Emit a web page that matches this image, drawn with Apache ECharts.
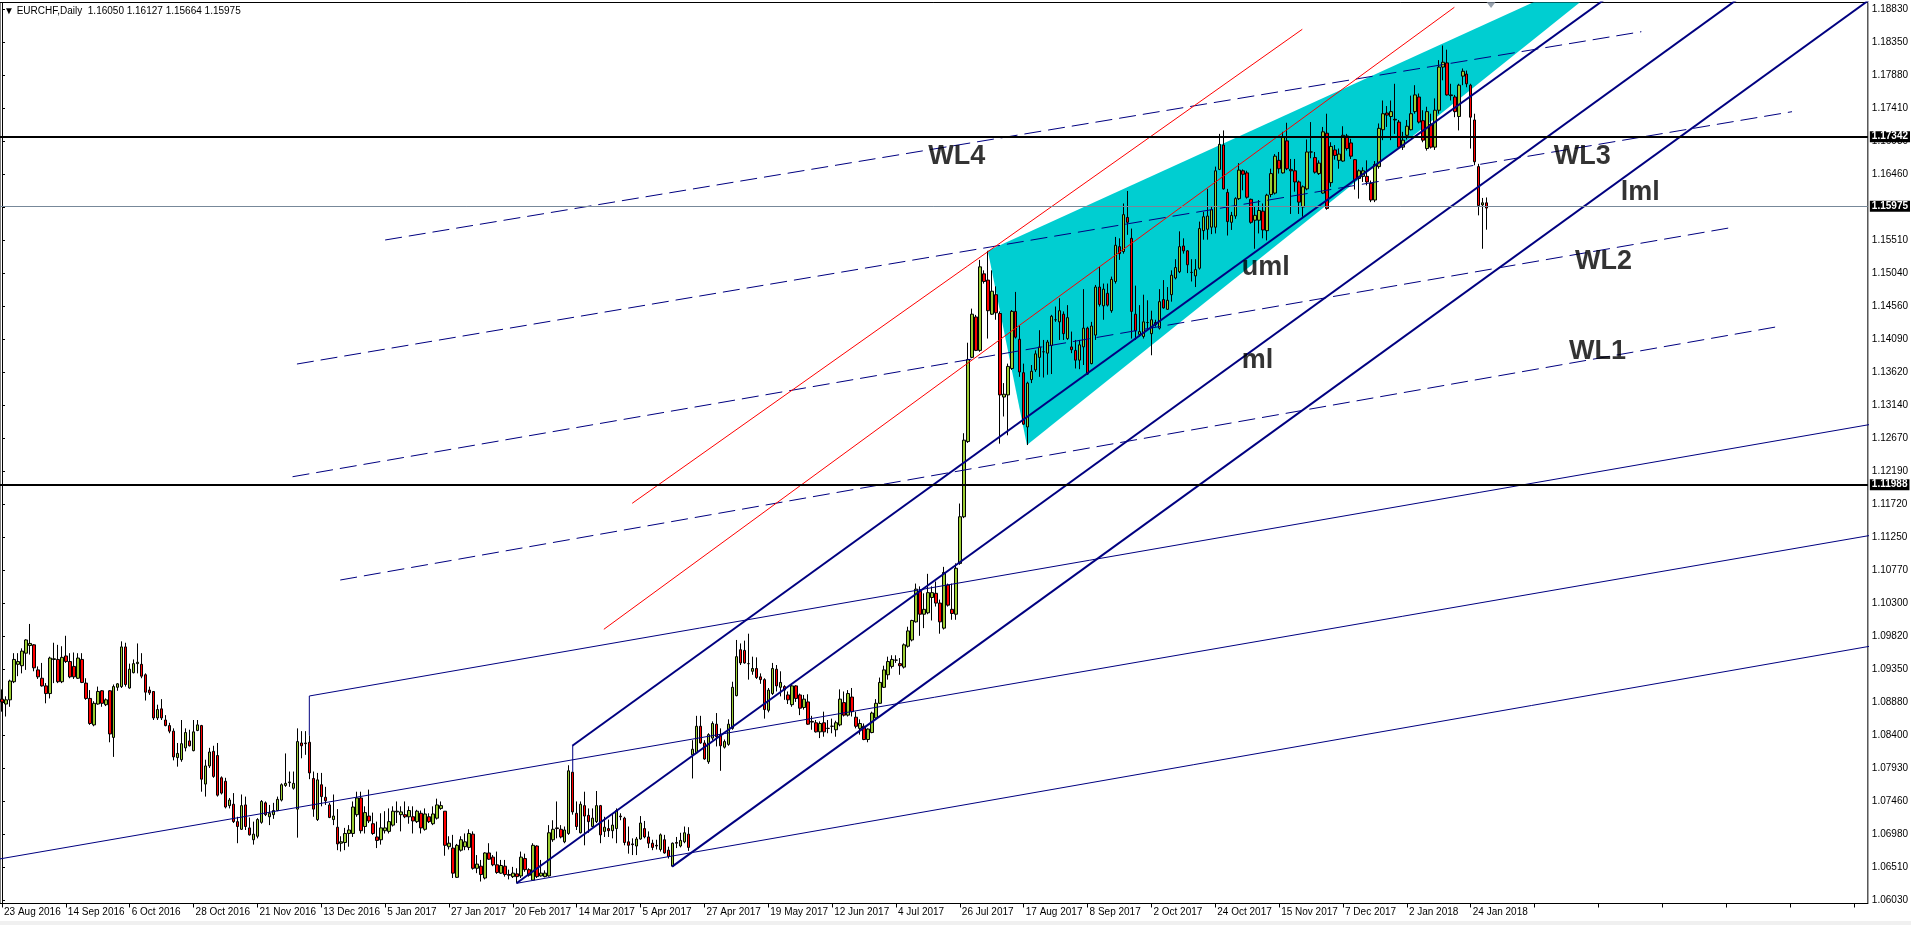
<!DOCTYPE html>
<html>
<head>
<meta charset="utf-8">
<script src="https://cdn.jsdelivr.net/npm/echarts@6/dist/echarts.min.js"></script>
<style>
  html, body { margin: 0; padding: 0; background: #fff; }
  #chart { width: 1911px; height: 925px; }
</style>
</head>
<body>
<div id="chart"></div>
<script>
// 日线 K 线 [open, close, low, high]，从 23 Aug 2016 起
const candles = [
  [1.0892,1.0888,1.0874,1.0906],[1.0885,1.0891,1.0867,1.0896],[1.0891,1.0918,1.0881,1.0920],[1.0917,1.0949,1.0915,1.0958],
  [1.0942,1.0946,1.0925,1.0958],[1.0940,1.0961,1.0929,1.0965],[1.0958,1.0977,1.0934,1.0978],[1.0969,1.0972,1.0956,1.1000],
  [1.0970,1.0937,1.0932,1.0971],[1.0934,1.0924,1.0921,1.0939],[1.0922,1.0911,1.0910,1.0944],[1.0911,1.0900,1.0886,1.0915],
  [1.0900,1.0951,1.0893,1.0953],[1.0949,1.0950,1.0915,1.0973],[1.0949,1.0917,1.0915,1.0970],[1.0917,1.0952,1.0915,1.0968],
  [1.0954,1.0946,1.0944,1.0983],[1.0946,1.0924,1.0922,1.0958],[1.0939,1.0924,1.0921,1.0959],[1.0922,1.0951,1.0921,1.0958],
  [1.0949,1.0916,1.0915,1.0958],[1.0915,1.0893,1.0891,1.0922],[1.0893,1.0857,1.0855,1.0905],[1.0855,1.0886,1.0853,1.0889],
  [1.0885,1.0903,1.0884,1.0910],[1.0904,1.0886,1.0881,1.0905],[1.0884,1.0891,1.0882,1.0893],[1.0904,1.0842,1.0830,1.0905],
  [1.0837,1.0910,1.0809,1.0913],[1.0909,1.0914,1.0904,1.0915],[1.0910,1.0967,1.0908,1.0975],[1.0967,1.0913,1.0910,1.0973],
  [1.0908,1.0935,1.0907,1.0943],[1.0930,1.0943,1.0929,1.0949],[1.0943,1.0945,1.0929,1.0972],[1.0942,1.0925,1.0922,1.0958],
  [1.0927,1.0902,1.0890,1.0929],[1.0905,1.0901,1.0898,1.0910],[1.0903,1.0865,1.0862,1.0903],[1.0865,1.0877,1.0862,1.0884],
  [1.0878,1.0865,1.0862,1.0892],[1.0862,1.0854,1.0853,1.0869],[1.0854,1.0846,1.0843,1.0858],[1.0846,1.0809,1.0804,1.0850],
  [1.0808,1.0814,1.0795,1.0829],[1.0805,1.0828,1.0802,1.0862],[1.0822,1.0844,1.0817,1.0850],[1.0832,1.0825,1.0824,1.0848],
  [1.0818,1.0845,1.0817,1.0862],[1.0847,1.0855,1.0846,1.0862],[1.0854,1.0777,1.0759,1.0855],[1.0770,1.0796,1.0752,1.0805],
  [1.0796,1.0816,1.0793,1.0822],[1.0817,1.0781,1.0779,1.0825],[1.0811,1.0754,1.0752,1.0829],[1.0779,1.0757,1.0755,1.0781],
  [1.0774,1.0737,1.0735,1.0779],[1.0739,1.0747,1.0735,1.0750],[1.0741,1.0716,1.0714,1.0757],[1.0716,1.0709,1.0685,1.0723],
  [1.0705,1.0739,1.0704,1.0755],[1.0740,1.0709,1.0704,1.0752],[1.0707,1.0697,1.0696,1.0722],[1.0690,1.0698,1.0683,1.0716],
  [1.0695,1.0719,1.0692,1.0721],[1.0715,1.0745,1.0713,1.0747],[1.0743,1.0726,1.0724,1.0745],[1.0723,1.0728,1.0711,1.0740],
  [1.0726,1.0732,1.0720,1.0743],[1.0732,1.0748,1.0731,1.0752],[1.0747,1.0769,1.0745,1.0771],[1.0768,1.0771,1.0766,1.0814],
  [1.0772,1.0773,1.0766,1.0788],[1.0764,1.0771,1.0762,1.0788],[1.0734,1.0831,1.0693,1.0850],[1.0829,1.0825,1.0807,1.0846],
  [1.0829,1.0828,1.0812,1.0846],[1.0830,1.0786,1.0777,1.0840],[1.0778,1.0734,1.0723,1.0788],[1.0719,1.0776,1.0717,1.0786],
  [1.0769,1.0752,1.0738,1.0786],[1.0751,1.0746,1.0740,1.0766],[1.0740,1.0722,1.0721,1.0743],[1.0719,1.0724,1.0711,1.0755],
  [1.0708,1.0684,1.0675,1.0734],[1.0685,1.0687,1.0673,1.0695],[1.0686,1.0699,1.0675,1.0707],[1.0699,1.0704,1.0680,1.0711],
  [1.0699,1.0737,1.0694,1.0745],[1.0726,1.0750,1.0723,1.0759],[1.0750,1.0703,1.0699,1.0759],[1.0709,1.0729,1.0699,1.0738],
  [1.0724,1.0717,1.0714,1.0762],[1.0713,1.0699,1.0697,1.0729],[1.0694,1.0689,1.0678,1.0716],[1.0690,1.0707,1.0683,1.0728],
  [1.0703,1.0707,1.0699,1.0731],[1.0702,1.0716,1.0699,1.0735],[1.0711,1.0731,1.0709,1.0738],[1.0730,1.0731,1.0714,1.0745],
  [1.0726,1.0730,1.0702,1.0738],[1.0726,1.0723,1.0721,1.0745],[1.0723,1.0732,1.0713,1.0738],[1.0723,1.0717,1.0699,1.0738],
  [1.0716,1.0731,1.0714,1.0733],[1.0728,1.0707,1.0699,1.0732],[1.0705,1.0727,1.0703,1.0735],[1.0723,1.0716,1.0714,1.0728],
  [1.0713,1.0727,1.0711,1.0738],[1.0721,1.0740,1.0719,1.0749],[1.0735,1.0739,1.0733,1.0745],[1.0731,1.0682,1.0667,1.0731],
  [1.0680,1.0685,1.0676,1.0695],[1.0678,1.0642,1.0635,1.0697],[1.0636,1.0682,1.0635,1.0684],[1.0675,1.0690,1.0673,1.0695],
  [1.0680,1.0687,1.0675,1.0699],[1.0679,1.0699,1.0675,1.0705],[1.0698,1.0649,1.0647,1.0702],[1.0649,1.0655,1.0642,1.0668],
  [1.0652,1.0640,1.0630,1.0661],[1.0635,1.0671,1.0633,1.0672],[1.0671,1.0662,1.0661,1.0685],[1.0665,1.0654,1.0652,1.0668],
  [1.0654,1.0643,1.0641,1.0673],[1.0642,1.0653,1.0641,1.0661],[1.0652,1.0640,1.0637,1.0661],[1.0640,1.0639,1.0633,1.0647],
  [1.0637,1.0642,1.0635,1.0651],[1.0641,1.0637,1.0628,1.0649],[1.0638,1.0665,1.0635,1.0673],[1.0663,1.0647,1.0644,1.0670],
  [1.0647,1.0639,1.0637,1.0649],[1.0632,1.0682,1.0631,1.0685],[1.0681,1.0637,1.0635,1.0682],[1.0638,1.0642,1.0637,1.0661],
  [1.0637,1.0642,1.0636,1.0646],[1.0638,1.0700,1.0637,1.0711],[1.0690,1.0705,1.0687,1.0718],[1.0707,1.0706,1.0692,1.0745],
  [1.0705,1.0694,1.0692,1.0711],[1.0687,1.0704,1.0685,1.0709],[1.0699,1.0789,1.0697,1.0797],[1.0787,1.0730,1.0726,1.0788],
  [1.0728,1.0709,1.0704,1.0745],[1.0700,1.0741,1.0699,1.0745],[1.0739,1.0724,1.0682,1.0759],[1.0725,1.0716,1.0700,1.0735],
  [1.0709,1.0721,1.0708,1.0735],[1.0716,1.0739,1.0714,1.0760],[1.0739,1.0697,1.0685,1.0740],[1.0702,1.0708,1.0694,1.0723],
  [1.0706,1.0703,1.0694,1.0719],[1.0703,1.0711,1.0692,1.0728],[1.0706,1.0732,1.0685,1.0735],[1.0724,1.0723,1.0718,1.0728],
  [1.0721,1.0686,1.0682,1.0723],[1.0687,1.0682,1.0670,1.0709],[1.0684,1.0683,1.0668,1.0692],[1.0681,1.0691,1.0668,1.0694],
  [1.0691,1.0714,1.0690,1.0724],[1.0706,1.0694,1.0692,1.0717],[1.0694,1.0685,1.0678,1.0702],[1.0685,1.0679,1.0675,1.0690],
  [1.0682,1.0681,1.0676,1.0690],[1.0676,1.0697,1.0673,1.0699],[1.0690,1.0671,1.0670,1.0697],[1.0675,1.0666,1.0663,1.0680],
  [1.0652,1.0685,1.0651,1.0686],[1.0686,1.0685,1.0678,1.0694],[1.0681,1.0689,1.0679,1.0700],[1.0687,1.0700,1.0685,1.0709],
  [1.0698,1.0679,1.0674,1.0708],[1.0812,1.0820,1.0778,1.0833],[1.0815,1.0853,1.0814,1.0868],[1.0853,1.0829,1.0828,1.0868],
  [1.0829,1.0806,1.0805,1.0833],[1.0802,1.0841,1.0799,1.0843],[1.0836,1.0857,1.0833,1.0860],[1.0856,1.0838,1.0824,1.0872],
  [1.0841,1.0825,1.0789,1.0850],[1.0823,1.0831,1.0821,1.0834],[1.0827,1.0856,1.0825,1.0863],[1.0850,1.0909,1.0848,1.0917],
  [1.0897,1.0953,1.0896,1.0977],[1.0963,1.0944,1.0941,1.0972],[1.0962,1.0944,1.0943,1.0976],[1.0943,1.0943,1.0920,1.0986],
  [1.0932,1.0936,1.0927,1.0953],[1.0936,1.0923,1.0921,1.0952],[1.0924,1.0920,1.0914,1.0929],[1.0920,1.0877,1.0864,1.0922],
  [1.0876,1.0905,1.0873,1.0908],[1.0900,1.0936,1.0898,1.0944],[1.0935,1.0911,1.0903,1.0941],[1.0909,1.0916,1.0896,1.0932],
  [1.0910,1.0905,1.0891,1.0912],[1.0898,1.0891,1.0885,1.0903],[1.0884,1.0911,1.0881,1.0914],[1.0911,1.0893,1.0888,1.0912],
  [1.0898,1.0879,1.0869,1.0900],[1.0880,1.0892,1.0877,1.0898],[1.0888,1.0856,1.0855,1.0899],[1.0860,1.0859,1.0848,1.0868],
  [1.0858,1.0845,1.0844,1.0862],[1.0845,1.0857,1.0836,1.0860],[1.0858,1.0845,1.0838,1.0874],[1.0850,1.0850,1.0843,1.0862],
  [1.0853,1.0853,1.0843,1.0864],[1.0848,1.0858,1.0838,1.0861],[1.0855,1.0892,1.0853,1.0906],[1.0887,1.0869,1.0867,1.0903],
  [1.0869,1.0900,1.0867,1.0905],[1.0895,1.0874,1.0867,1.0908],[1.0866,1.0853,1.0850,1.0874],[1.0850,1.0857,1.0841,1.0863],
  [1.0853,1.0834,1.0833,1.0857],[1.0834,1.0849,1.0830,1.0850],[1.0844,1.0872,1.0843,1.0874],[1.0865,1.0886,1.0862,1.0892],
  [1.0886,1.0916,1.0885,1.0923],[1.0909,1.0934,1.0908,1.0940],[1.0927,1.0946,1.0920,1.0953],[1.0939,1.0949,1.0936,1.0955],
  [1.0948,1.0948,1.0944,1.0955],[1.0943,1.0940,1.0927,1.0951],[1.0938,1.0970,1.0936,1.0972],[1.0968,1.0990,1.0966,1.0996],
  [1.0977,1.1005,1.0975,1.1006],[1.1003,1.1050,1.1002,1.1058],[1.1047,1.1014,1.0983,1.1054],[1.1014,1.1021,1.0994,1.1044],
  [1.1016,1.1045,1.1014,1.1072],[1.1038,1.1045,1.1005,1.1054],[1.1044,1.1030,1.1025,1.1061],[1.1030,1.1003,1.0986,1.1035],
  [1.0994,1.1074,1.0992,1.1082],[1.1056,1.1027,1.1025,1.1058],[1.1021,1.1015,1.1006,1.1058],[1.1014,1.1080,1.1006,1.1087],
  [1.1087,1.1154,1.1085,1.1173],[1.1154,1.1264,1.1152,1.1274],[1.1262,1.1380,1.1260,1.1404],[1.1383,1.1445,1.1382,1.1453],
  [1.1441,1.1393,1.1392,1.1444],[1.1393,1.1513,1.1391,1.1523],[1.1503,1.1492,1.1489,1.1508],[1.1494,1.1450,1.1410,1.1536],
  [1.1445,1.1478,1.1444,1.1508],[1.1473,1.1447,1.1437,1.1485],[1.1446,1.1329,1.1259,1.1449],[1.1326,1.1330,1.1298,1.1346],
  [1.1329,1.1370,1.1271,1.1374],[1.1367,1.1449,1.1365,1.1451],[1.1449,1.1412,1.1410,1.1477],[1.1409,1.1362,1.1355,1.1429],
  [1.1361,1.1287,1.1286,1.1374],[1.1283,1.1346,1.1257,1.1348],[1.1351,1.1363,1.1346,1.1372],[1.1365,1.1388,1.1362,1.1393],
  [1.1383,1.1398,1.1355,1.1422],[1.1391,1.1391,1.1354,1.1408],[1.1389,1.1405,1.1358,1.1408],[1.1400,1.1442,1.1359,1.1444],
  [1.1437,1.1437,1.1434,1.1456],[1.1434,1.1450,1.1408,1.1468],[1.1445,1.1417,1.1408,1.1449],[1.1410,1.1440,1.1408,1.1458],
  [1.1398,1.1394,1.1389,1.1420],[1.1393,1.1379,1.1367,1.1408],[1.1379,1.1401,1.1366,1.1408],[1.1398,1.1425,1.1372,1.1481],
  [1.1425,1.1359,1.1358,1.1427],[1.1374,1.1428,1.1373,1.1434],[1.1415,1.1484,1.1408,1.1487],[1.1484,1.1459,1.1456,1.1513],
  [1.1457,1.1481,1.1437,1.1489],[1.1475,1.1458,1.1456,1.1489],[1.1450,1.1495,1.1447,1.1499],[1.1492,1.1544,1.1489,1.1556],
  [1.1542,1.1532,1.1523,1.1554],[1.1535,1.1588,1.1532,1.1604],[1.1584,1.1577,1.1559,1.1622],[1.1554,1.1449,1.1410,1.1568],
  [1.1445,1.1421,1.1408,1.1486],[1.1416,1.1420,1.1413,1.1458],[1.1413,1.1434,1.1410,1.1473],[1.1433,1.1433,1.1422,1.1465],
  [1.1417,1.1437,1.1386,1.1450],[1.1433,1.1430,1.1427,1.1437],[1.1425,1.1463,1.1423,1.1481],[1.1466,1.1454,1.1453,1.1494],
  [1.1452,1.1465,1.1451,1.1484],[1.1473,1.1501,1.1463,1.1508],[1.1497,1.1512,1.1495,1.1524],[1.1506,1.1542,1.1504,1.1564],
  [1.1543,1.1536,1.1532,1.1554],[1.1536,1.1516,1.1504,1.1537],[1.1505,1.1505,1.1492,1.1524],[1.1500,1.1509,1.1484,1.1524],
  [1.1511,1.1568,1.1509,1.1578],[1.1565,1.1585,1.1552,1.1592],[1.1567,1.1586,1.1552,1.1625],[1.1570,1.1595,1.1560,1.1600],
  [1.1570,1.1651,1.1561,1.1657],[1.1653,1.1689,1.1652,1.1704],[1.1688,1.1625,1.1624,1.1709],[1.1620,1.1578,1.1558,1.1625],
  [1.1577,1.1587,1.1566,1.1592],[1.1586,1.1611,1.1582,1.1613],[1.1611,1.1652,1.1609,1.1662],[1.1651,1.1646,1.1623,1.1653],
  [1.1648,1.1613,1.1611,1.1651],[1.1610,1.1577,1.1575,1.1611],[1.1580,1.1587,1.1539,1.1599],[1.1580,1.1594,1.1561,1.1609],
  [1.1593,1.1566,1.1554,1.1604],[1.1565,1.1616,1.1551,1.1618],[1.1617,1.1647,1.1613,1.1654],[1.1619,1.1672,1.1617,1.1675],
  [1.1666,1.1654,1.1647,1.1678],[1.1648,1.1700,1.1647,1.1707],[1.1694,1.1654,1.1652,1.1720],[1.1653,1.1651,1.1589,1.1668],
  [1.1651,1.1635,1.1621,1.1668],[1.1635,1.1606,1.1589,1.1637],[1.1599,1.1628,1.1585,1.1630],[1.1625,1.1678,1.1623,1.1696],
  [1.1678,1.1678,1.1669,1.1721],[1.1670,1.1649,1.1647,1.1678],[1.1647,1.1662,1.1645,1.1666],[1.1619,1.1707,1.1618,1.1714],
  [1.1705,1.1597,1.1595,1.1733],[1.1634,1.1686,1.1628,1.1692],[1.1681,1.1673,1.1667,1.1688],[1.1666,1.1675,1.1654,1.1683],
  [1.1665,1.1702,1.1664,1.1715],[1.1701,1.1683,1.1680,1.1704],[1.1691,1.1672,1.1668,1.1697],[1.1667,1.1638,1.1624,1.1668],
  [1.1640,1.1651,1.1611,1.1653],[1.1643,1.1651,1.1635,1.1656],[1.1643,1.1635,1.1630,1.1666],[1.1633,1.1609,1.1606,1.1637],
  [1.1609,1.1660,1.1606,1.1665],[1.1657,1.1712,1.1654,1.1719],[1.1710,1.1733,1.1695,1.1752],[1.1734,1.1731,1.1714,1.1744],
  [1.1729,1.1736,1.1695,1.1752],[1.1725,1.1724,1.1704,1.1776],[1.1721,1.1685,1.1683,1.1724],[1.1685,1.1695,1.1681,1.1707],
  [1.1702,1.1715,1.1696,1.1724],[1.1710,1.1733,1.1709,1.1759],[1.1736,1.1760,1.1733,1.1774],[1.1757,1.1721,1.1719,1.1762],
  [1.1723,1.1695,1.1692,1.1738],[1.1683,1.1736,1.1680,1.1743],[1.1718,1.1685,1.1683,1.1733],[1.1685,1.1738,1.1681,1.1755],
  [1.1738,1.1800,1.1733,1.1810],[1.1800,1.1807,1.1781,1.1831],[1.1806,1.1760,1.1759,1.1825],[1.1760,1.1759,1.1752,1.1776],
  [1.1757,1.1736,1.1728,1.1760],[1.1729,1.1774,1.1709,1.1776],[1.1787,1.1794,1.1774,1.1798],[1.1790,1.1776,1.1771,1.1795],
  [1.1774,1.1728,1.1683,1.1776],[1.1724,1.1664,1.1659,1.1733],[1.1657,1.1601,1.1587,1.1661],[1.1602,1.1605,1.1539,1.1612],
  [1.16050,1.15975,1.15664,1.16127]
];

// 横轴日期标签，每 16 根 K 线一个
const dateLabels = ['23 Aug 2016','14 Sep 2016','6 Oct 2016','28 Oct 2016','21 Nov 2016','13 Dec 2016','5 Jan 2017',
  '27 Jan 2017','20 Feb 2017','14 Mar 2017','5 Apr 2017','27 Apr 2017','19 May 2017','12 Jun 2017','4 Jul 2017',
  '26 Jul 2017','17 Aug 2017','8 Sep 2017','2 Oct 2017','24 Oct 2017','15 Nov 2017','7 Dec 2017','2 Jan 2018','24 Jan 2018'];

// 右侧价格刻度
const priceTicks = ['1.06030','1.06510','1.06980','1.07460','1.07930','1.08400','1.08880','1.09350','1.09820','1.10300',
  '1.10770','1.11250','1.11720','1.12190','1.12670','1.13140','1.13620','1.14090','1.14560','1.15040','1.15510',
  '1.15990','1.16460','1.16930','1.17410','1.17880','1.18350','1.18830'];

// 水平价位线
const levelBlack = ['1.17342', '1.11988'];
const levelBid = '1.15975';

// 趋势线（K 线序号, 价格）
const steepLines = [
  [[142.9, 1.08251], [420, 1.19738]],
  [[128.9, 1.06274], [449.3, 1.19576]],
  [[167.9, 1.06513], [486.8, 1.19752]]
];
const shallowLines = [
  [[77, 1.08965], [470, 1.12885]],
  [[-2, 1.06610], [470, 1.11291]],
  [[128.9, 1.06274], [470, 1.09700]]
];
const handleLines = [
  [[143, 1.08251], [143, 1.07877]],
  [[77, 1.08965], [77, 1.08400]]
];
const dashedLines = [
  [[96.0, 1.15516], [410.75, 1.18508]],
  [[73.9, 1.13734], [448.5, 1.17359]],
  [[72.8, 1.12115], [433.65, 1.15698]],
  [[84.75, 1.10631], [445.8, 1.14280]]
];
const redLines = [
  [[157.9, 1.11733], [325.8, 1.18543]],
  [[150.8, 1.09923], [363.9, 1.18859]]
];
const cyanTriangle = [[247.0, 1.15362], [256.8, 1.12571], [410.8, 1.19639]];

// 文字标注（名称, K 线序号, 价格）
const textLabels = [
  ['WL4', 232.1, 1.16708],
  ['WL3', 388.8, 1.16708],
  ['lml', 405.6, 1.16191],
  ['uml', 310.6, 1.15114],
  ['WL2', 394.1, 1.15200],
  ['ml', 310.6, 1.13777],
  ['WL1', 392.6, 1.13907]
];

const barCount = 468;
const categories = [];
for (var i = 0; i < barCount; i++) categories.push(i);

const chart = echarts.init(document.getElementById('chart'));

function 线段(list, style, z) {
  return list.map(function (seg) {
    return {
      type: 'line', xAxisIndex: 1, yAxisIndex: 0,
      data: seg, symbol: 'none', silent: true, animation: false,
      lineStyle: style, z: z, clip: true
    };
  });
}

function 价位(text, color, width) {
  return {
    name: text, yAxis: Number(text),
    lineStyle: { color: color, width: width, type: 'solid' }
  };
}

const series = [
  {
    type: 'custom', xAxisIndex: 1, yAxisIndex: 0, clip: true, silent: true, z: 1,
    data: [cyanTriangle[0]],
    renderItem: function (params, api) {
      return {
        type: 'polygon',
        shape: { points: cyanTriangle.map(function (p) { return api.coord(p); }) },
        style: { fill: '#00ced1' }
      };
    }
  },
  {
    type: 'candlestick', xAxisIndex: 0, yAxisIndex: 0, z: 2,
    data: candles, barWidth: 3, silent: true, animation: false,
    itemStyle: { color: '#9acd32', color0: '#ff0000', borderColor: '#000', borderColor0: '#000', borderWidth: 1 },
    markLine: {
      symbol: 'none', silent: true, animation: false, z: 5,
      label: {
        show: true, position: 'end', distance: 2,
        formatter: '{b}',
        backgroundColor: '#000', color: '#fff', fontSize: 10, fontWeight: 'bold',
        fontFamily: 'Liberation Sans', padding: [1, 2, 0, 2]
      },
      data: [
        价位(levelBlack[0], '#000', 2),
        价位(levelBlack[1], '#000', 2),
        价位(levelBid, '#778899', 1)
      ]
    }
  }
]
  .concat(线段(shallowLines, { color: '#000080', width: 1 }, 3))
  .concat(线段(handleLines, { color: '#000080', width: 1 }, 3))
  .concat(线段(dashedLines, { color: '#000080', width: 1, type: [17, 7] }, 3))
  .concat(线段(redLines, { color: '#ff0000', width: 1 }, 3))
  .concat(线段(steepLines, { color: '#000080', width: 2 }, 4))
  .concat([
    {
      type: 'scatter', xAxisIndex: 1, yAxisIndex: 0, silent: true, z: 6,
      data: [[373.1, 1.18892]], symbol: 'triangle', symbolRotate: 180, symbolSize: [9, 6],
      itemStyle: { color: '#7d8a99' }
    },
    {
      type: 'scatter', xAxisIndex: 1, yAxisIndex: 0, silent: true, z: 7,
      symbolSize: 0,
      data: textLabels.map(function (t) { return { name: t[0], value: [t[1], t[2]] }; }),
      label: {
        show: true, position: 'right', distance: 0,
        formatter: '{b}', color: '#000', fontSize: 27, fontWeight: 'bold', fontFamily: 'Liberation Sans'
      }
    }
  ]);

chart.setOption({
  animation: false,
  backgroundColor: '#fff',
  grid: { left: 0, top: 2.5, width: 1872.5, height: 901, show: true, borderColor: '#000', borderWidth: 1, backgroundColor: 'transparent' },
  xAxis: [
    {
      type: 'category', data: categories, boundaryGap: true,
      axisLine: { show: true, lineStyle: { color: '#000', width: 1 } },
      axisTick: { show: true, interval: 15, alignWithLabel: true, length: 4, lineStyle: { color: '#000' } },
      axisLabel: {
        interval: 15, align: 'left', margin: 4, padding: [0, 0, 0, 2],
        color: '#000', fontSize: 10, fontFamily: 'Liberation Sans',
        formatter: function (v, idx) { return dateLabels[idx / 16] || ''; }
      },
      splitLine: { show: false }
    },
    { type: 'value', min: -0.5, max: 467.5, show: false }
  ],
  yAxis: [
    {
      type: 'value', position: 'right', min: 1.05984, max: 1.189277, scale: true,
      axisLine: { show: true, lineStyle: { color: '#000', width: 1 } },
      axisTick: { show: true, length: 3, customValues: priceTicks.map(Number), lineStyle: { color: '#000' } },
      axisLabel: {
        customValues: priceTicks.map(Number), margin: 4,
        showMinLabel: true, showMaxLabel: true, hideOverlap: false,
        color: '#000', fontSize: 10, fontFamily: 'Liberation Sans',
        formatter: function (v) { return v.toFixed(5); }
      },
      splitLine: { show: false }
    }
  ],
  graphic: [
    {
      type: 'text', left: 4, top: 6, silent: true,
      style: { text: '\u25BC EURCHF,Daily  1.16050 1.16127 1.15664 1.15975', fill: '#000', font: '10px "Liberation Sans"' }
    },
    {
      type: 'rect', left: 0, top: 921, silent: true,
      shape: { width: 1911, height: 4 }, style: { fill: '#f0f0f0' }
    }
  ],
  series: series
});
</script>
</body>
</html>
